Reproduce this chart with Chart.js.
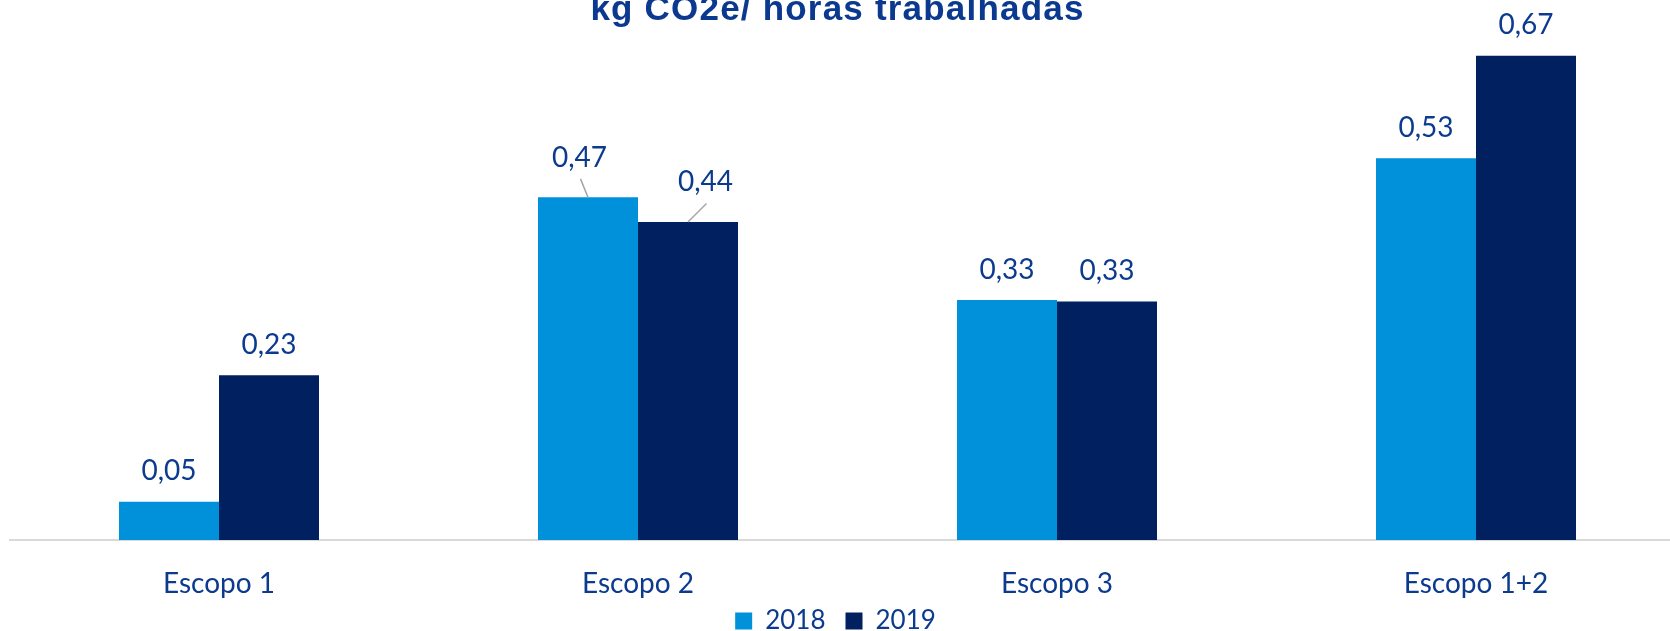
<!DOCTYPE html>
<html>
<head>
<meta charset="utf-8">
<script src="https://cdn.jsdelivr.net/npm/chart.js@4.4.1/dist/chart.umd.min.js"></script>
<style>
  html, body { margin: 0; padding: 0; background: #ffffff; overflow: hidden; width: 1670px; height: 631px; }
  #title {
    position: absolute; top: -10px; left: 837.5px; transform: translateX(-50%);
    font-family: "Liberation Sans", Arial, sans-serif; font-weight: bold; font-size: 35px;
    letter-spacing: 1.2px;
    line-height: 35px; color: #0b3990; white-space: nowrap; z-index: 2;
  }
  #wrap { position: absolute; left: 0; top: 0; width: 1686px; height: 644px; }
</style>
</head>
<body>
<div id="title">kg CO2e/ horas trabalhadas</div>
<div id="wrap"><canvas id="c" width="1686" height="644"></canvas></div>
<script>
// ---- data ----
const categories = ["Escopo 1", "Escopo 2", "Escopo 3", "Escopo 1+2"];
const seriesNames = ["2018", "2019"];
const values2018 = [0.053, 0.474, 0.332, 0.528];
const values2019 = [0.228, 0.440, 0.330, 0.670];

// label nudges (style only): [dx, dy] per point, with leader line when nudged
const nudge2018 = [null, [-8.5, -9], null, null];
const nudge2019 = [null, [17.5, -9], null, null];

const textColor = "#0b3a8e";
const colors = ["#0091da", "#00205f"];

function fmt(v) { return v.toFixed(2).replace(".", ","); }

const labelPlugin = {
  id: "barLabels",
  afterDatasetsDraw(chart) {
    const ctx = chart.ctx;
    const nudges = [nudge2018, nudge2019];
    ctx.save();
    ctx.font = "28px Lato";
    ctx.fillStyle = textColor;
    ctx.textAlign = "center";
    ctx.textBaseline = "alphabetic";
    chart.data.datasets.forEach((ds, di) => {
      const meta = chart.getDatasetMeta(di);
      meta.data.forEach((bar, i) => {
        const n = nudges[di][i];
        const dx = n ? n[0] : 0, dy = n ? n[1] : 0;
        const lx = bar.x + dx;
        const ly = bar.y - 21.5 + dy;
        if (n) {
          ctx.save();
          ctx.strokeStyle = "#a6a6a6";
          ctx.lineWidth = 1.5;
          ctx.beginPath();
          ctx.moveTo(lx + 1, ly + 12);
          ctx.lineTo(bar.x, bar.y);
          ctx.stroke();
          ctx.restore();
        }
        ctx.fillText(fmt(ds.data[i]), lx, ly);
      });
    });
    ctx.restore();
  }
};

const layoutTweaks = {
  id: "layoutTweaks",
  afterLayout(chart) {
    if (chart.legend) { chart.legend.left -= 12; chart.legend.right -= 12; }
    // let the category labels draw below the (short) axis box without clipping
    if (chart.scales.x) { chart.scales.x._computeLabelArea = () => undefined; }
  }
};

function build() {
  new Chart(document.getElementById("c"), {
    type: "bar",
    data: {
      labels: categories,
      datasets: [
        { label: seriesNames[0], data: values2018, backgroundColor: colors[0], borderWidth: 0 },
        { label: seriesNames[1], data: values2019, backgroundColor: colors[1], borderWidth: 0 }
      ]
    },
    options: {
      responsive: false,
      animation: false,
      devicePixelRatio: 1,
      layout: { padding: { left: 9.5, right: 0.5, top: 34, bottom: 0 } },
      datasets: { bar: { categoryPercentage: 0.4773, barPercentage: 1.0 } },
      scales: {
        x: {
          grid: { display: false, drawTicks: false },
          border: { display: true, color: "#d9d9d9", width: 2 },
          ticks: { padding: 27, color: textColor, font: { family: "Lato", size: 28 } },
          afterFit(scale) { scale.height = 48; }
        },
        y: { display: false, min: 0, max: 0.7 }
      },
      plugins: {
        legend: {
          position: "bottom",
          labels: {
            boxWidth: 17, boxHeight: 17, padding: 20,
            color: textColor, font: { family: "Lato", size: 26 }
          }
        },
        tooltip: { enabled: false },
        title: { display: false }
      }
    },
    plugins: [labelPlugin, layoutTweaks]
  });
}

if (document.fonts && document.fonts.load) {
  Promise.all([
    document.fonts.load("28px Lato"),
    document.fonts.load("bold 35px 'Liberation Sans'")
  ]).then(build, build);
} else { build(); }
</script>
</body>
</html>
